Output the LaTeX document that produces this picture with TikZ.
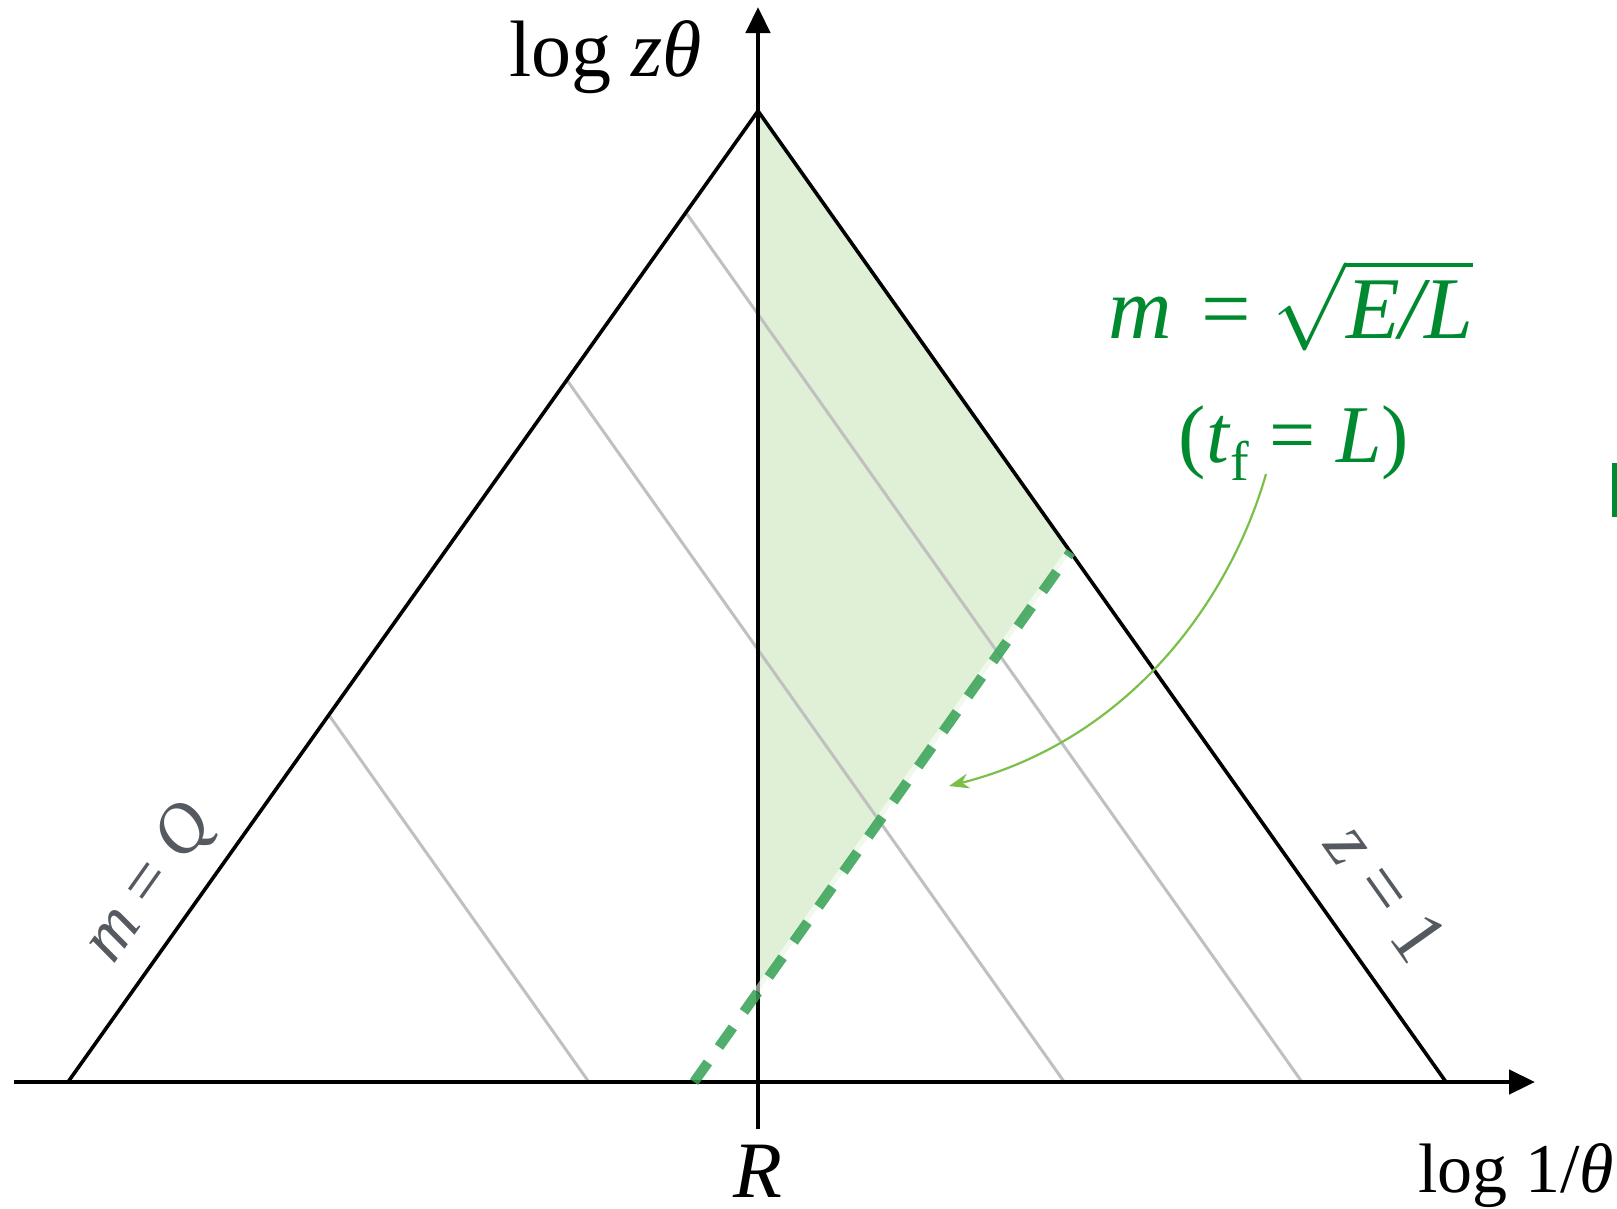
\RequirePackage{fix-cm}
\documentclass[tikz,border=0pt]{standalone}
\usepackage{fontspec}
\setmainfont{Liberation Serif}
\usetikzlibrary{arrows.meta,calc}
\definecolor{eqgreen}{RGB}{0,138,48}
\definecolor{dashgreen}{RGB}{52,160,82}
\definecolor{shadegreen}{RGB}{224,240,215}
\definecolor{arrgreen}{RGB}{122,192,72}
\definecolor{lblgray}{RGB}{85,90,96}
\definecolor{gridgray}{RGB}{192,192,192}
\tikzset{
  axisline/.style={line width=4.5pt,-{Triangle[length=26pt,width=24pt]}},
  triline/.style={line width=3.6pt,line join=miter},
  gridline/.style={line width=3pt,gridgray},
  dashline/.style={line width=10pt,dashgreen,opacity=0.85,dash pattern=on 24pt off 19pt},
  curvearrow/.style={line width=2.2pt,arrgreen,-{Stealth[length=20pt,width=15pt]}},
  bigtxt/.style={inner sep=0pt,font=\fontsize{80}{90}\selectfont},
  axtxt/.style={inner sep=0pt,font=\fontsize{70}{80}\selectfont},
  eqtxt/.style={inner sep=0pt,text=eqgreen,font=\fontsize{82}{92}\selectfont},
  eqbig/.style={inner sep=0pt,text=eqgreen,font=\fontsize{88}{96}\selectfont},
  graytxt/.style={inner sep=0pt,text=lblgray,font=\fontsize{70}{80}\selectfont},
  graybig/.style={inner sep=0pt,text=lblgray,font=\fontsize{77}{86}\selectfont}
}
\begin{document}
\begin{tikzpicture}[x=1pt,y=-1pt]
\useasboundingbox (0,0) rectangle (1617,1208);
\coordinate (A) at (758,111);
\coordinate (BL) at (68,1082);
\coordinate (BR) at (1446,1082);
\coordinate (xs) at (14,1082);
\coordinate (xe) at (1535,1082);
\coordinate (ys) at (758,1129);
\coordinate (ye) at (758,7);
\coordinate (D0) at ($(BR)!0.5457!(BL)$);
\coordinate (D1) at ($(BR)!0.5457!(A)$);
\coordinate (Dm) at (intersection of D0--D1 and A--ys);
% shaded region
\fill[shadegreen] (A) -- (D1) -- (Dm) -- cycle;
% grid lines parallel to right side
\foreach \t/\n in {0.378/g1,0.723/g2,0.8955/g3}{
  \coordinate (\n a) at ($(BL)!\t!(BR)$);
  \coordinate (\n b) at ($(BL)!\t!(A)$);
  \draw[gridline] (\n a) -- (\n b);
}
% triangle
\draw[triline] (BL) -- (A) -- (BR);
% axes
\draw[axisline] (xs) -- (xe);
\draw[axisline] (ys) -- (ye);
% dashed boundary
\draw[line width=10pt,white,opacity=0.55] (Dm) -- (D1);
\draw[dashline] (D0) -- (D1);
% labels
\node[bigtxt,anchor=base west] (ylab) at (509,76) {log \textit{zθ}};
\node[axtxt,anchor=base west] (xlab) at (1418,1192) {log 1/\textit{θ}};
\node[bigtxt,anchor=base] (rlab) at (758,1197) {\textit{R}};
\node[eqbig,anchor=base] (eq1) at (1291,338) {\textit{m}\hspace{0.08em} = $\sqrt{\mbox{\itshape E/L}}$};
\node[eqtxt,anchor=base] (eq2) at (1294,462) {(\textit{t}\raisebox{-0.22em}{\fontsize{56}{60}\selectfont f} = \textit{L})};
\node[graytxt,rotate=54.6] (mq) at (150,884) {\textit{m} = \textit{Q}};
\node[graybig,rotate=-54.7] (z1) at (1387,892) {\textit{z} = 1};
% curved arrow
\coordinate (cs) at (1266,474);
\coordinate (ce) at (949,786);
\draw[curvearrow] (cs) .. controls (1230,600) and (1130,740) .. (ce);
% cut-off fragment at right edge
\fill[eqgreen] (1612,463) rectangle (1617,517);
\end{tikzpicture}
\end{document}
